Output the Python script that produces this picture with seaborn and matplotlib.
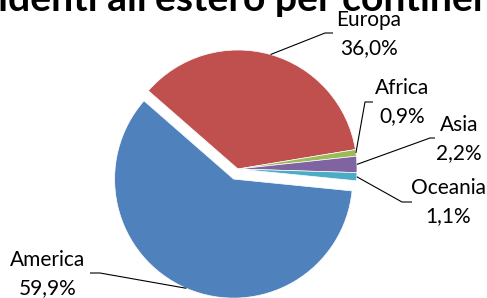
import math
import matplotlib.pyplot as plt
import seaborn as sns

# data
continents = ["America", "Europa", "Africa", "Asia", "Oceania"]
shares = [59.9, 36.0, 0.9, 2.2, 1.1]
colors = ["#4F81BD", "#C0504D", "#9BBB59", "#8064A2", "#4BACC6"]
title = "Residenti all'estero per continente"

sns.set_theme(style="white")
plt.rcParams["font.family"] = ["Lato", "DejaVu Sans"]

W, H = 487, 298
fig = plt.figure(figsize=(W / 100, H / 100), dpi=100)
ax = fig.add_axes([0, 0, 1, 1])

# pie geometry in pixel units (y up)
cx, cy, R = 238, H - 169, 119
explode = [11, 0, 0, 0, 0]
wedges, _ = ax.pie(shares, colors=colors, startangle=-5.7, counterclock=False,
                   explode=explode, radius=R, center=(cx, cy),
                   wedgeprops=dict(linewidth=0.5, edgecolor="white"))
ax.set_xlim(0, W)
ax.set_ylim(0, H)
ax.set_aspect("equal")
ax.axis("off")

# label layout (image pixel coords, y down): text centre, elbow, line end
label_xy = [(48, 274), (369, 34), (402, 102), (459, 139), (448, 202)]
elbow_xy = [(100, 273), (325, 33), (365, 102), (430, 138), (402, 202)]
end_xy = [(90, 273), (333, 33), (373, 102), (435, 138), (412, 202)]

for w, name, v, lab, elb, end in zip(wedges, continents, shares, label_xy, elbow_xy, end_xy):
    mid = math.radians((w.theta1 + w.theta2) / 2)
    x0 = w.center[0] + w.r * math.cos(mid)
    y0 = w.center[1] + w.r * math.sin(mid)
    ax.plot([x0, elb[0], end[0]], [y0, H - elb[1], H - end[1]],
            color="black", lw=0.8, solid_capstyle="butt")
    txt = f"{name}\n{v:.1f}%".replace(".", ",")
    ax.text(lab[0], H - lab[1], txt, ha="center", va="center",
            multialignment="center", fontsize=15, linespacing=1.55, color="black")

# title sits partly above the top edge, as in the original export
fig.text(233 / W, 1 - 11 / H, title, ha="center", va="baseline",
         fontsize=28.2, fontweight="bold", color="black")

fig.savefig("out.png", dpi=100)
